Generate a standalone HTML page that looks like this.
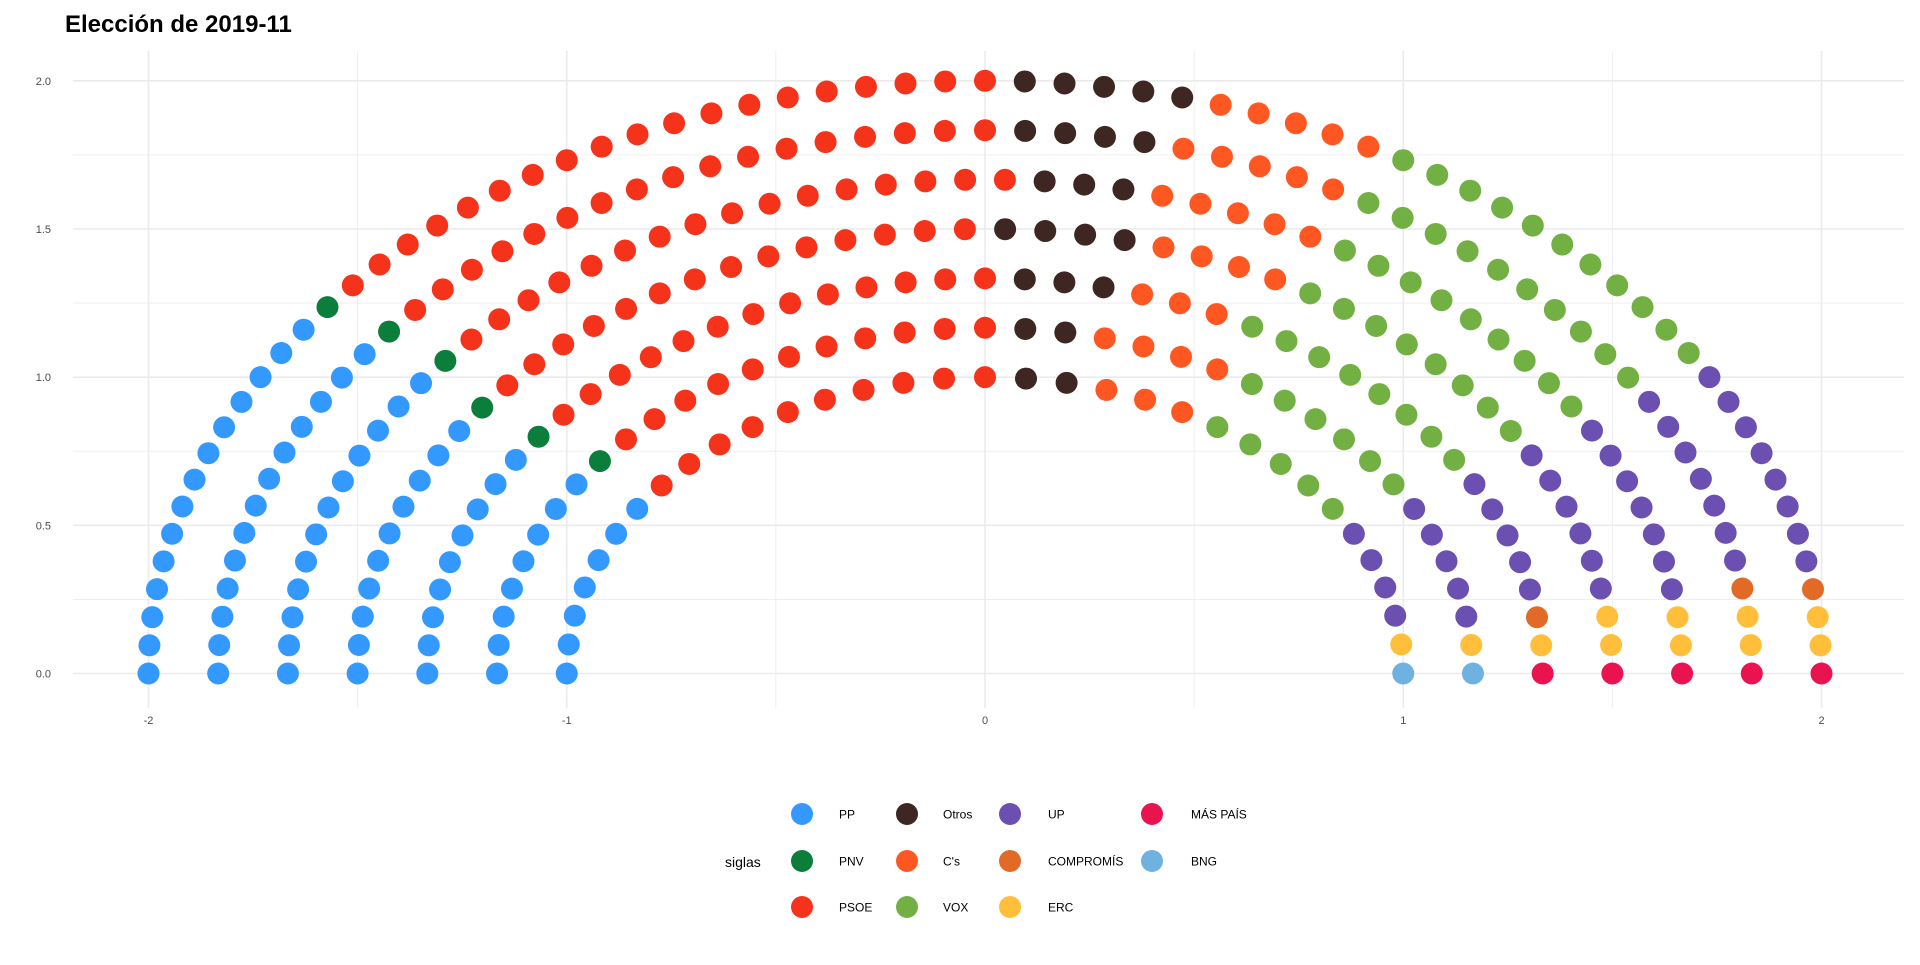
<!DOCTYPE html>
<html><head><meta charset="utf-8"><style>
body{margin:0;background:#fff;font-family:"Liberation Sans",sans-serif;}
</style></head><body>
<svg id="chart" width="1920" height="960" xmlns="http://www.w3.org/2000/svg">
<text x="65" y="32" font-size="24" font-weight="bold" fill="#000">Elección de 2019-11</text>
<g id="grid"></g><g id="seats"></g><g id="legend"></g>
</svg>
<script>
const parties = ["PP","PNV","PSOE","Otros","C's","VOX","UP","COMPROMÍS","ERC","MÁS PAÍS","BNG"];
const seats = [73,6,100,23,29,57,42,3,11,5,2];
const colors = ["#3399ff","#0a7e3a","#f5331a","#3e2723","#ff5722","#72b043","#6b4fb1","#e06a26","#ffbf3a","#e91350","#6fb1e0"];
const rowSeats = [33,39,45,50,56,61,67];
const xTicks = [-2,-1,0,1,2];
const yTicks = [0,0.5,1,1.5,2];
const NS="http://www.w3.org/2000/svg";
const xs = v => 985 + v*418.25;
const ys = v => 673.5 - v*296.35;
function mk(tag, attrs, parent){const e=document.createElementNS(NS,tag);for(const k in attrs)e.setAttribute(k,attrs[k]);parent.appendChild(e);return e;}
const grid=document.getElementById('grid');
for(let v=-2.5;v<=2.5;v+=0.5){const major=xTicks.includes(v);
 const l=mk('line',{x1:xs(v),x2:xs(v),y1:51,y2:708,stroke:'#ebebeb','stroke-width':major?1.6:0.8},grid);
 
 }
for(let v=0;v<=2;v+=0.25){const major=yTicks.includes(v);
 const l=mk('line',{x1:73,x2:1904,y1:ys(v),y2:ys(v),stroke:'#ebebeb','stroke-width':major?1.6:0.8},grid);
 
 }
xTicks.forEach(v=>{const t=mk('text',{x:xs(v),y:724,'font-size':11,'text-anchor':'middle',fill:'#4d4d4d'},grid);t.textContent=v;
 
 });
yTicks.forEach(v=>{const t=mk('text',{x:51,y:ys(v)+4,'font-size':11,'text-anchor':'end',fill:'#4d4d4d'},grid);t.textContent=v.toFixed(1);
 
 });
const pts=[];
rowSeats.forEach((n,i)=>{const r=1+i/(rowSeats.length-1);
 for(let k=0;k<n;k++){const th=Math.PI-k*Math.PI/(n-1);pts.push({th,row:i,x:r*Math.cos(th),y:r*Math.sin(th)});}});
pts.sort((a,b)=>(Math.abs(b.th-a.th)>1e-9?b.th-a.th:b.row-a.row));
const sg=document.getElementById('seats');
let idx=0;
parties.forEach((p,pi)=>{for(let s=0;s<seats[pi]&&idx<pts.length;s++,idx++){const q=pts[idx];
 const c=mk('circle',{cx:xs(q.x),cy:ys(q.y),r:11,fill:colors[pi]},sg);
 
 }});
const lg=document.getElementById('legend');
const st=mk('text',{x:725,y:867,'font-size':14,fill:'#000'},lg);st.textContent='siglas';


const colDot=[802,907,1010,1152],colTxt=[839,943,1048,1191],rowY=[814,861,907];
parties.forEach((p,i)=>{const c=Math.floor(i/3),r=i%3;
 const g=mk('g',{},lg);
 
 
 mk('circle',{cx:colDot[c],cy:rowY[r],r:11,fill:colors[i]},g);
 const t=mk('text',{x:colTxt[c],y:rowY[r]+4.5,'font-size':12,fill:'#000'},g);t.textContent=p;});
</script>
</body></html>
